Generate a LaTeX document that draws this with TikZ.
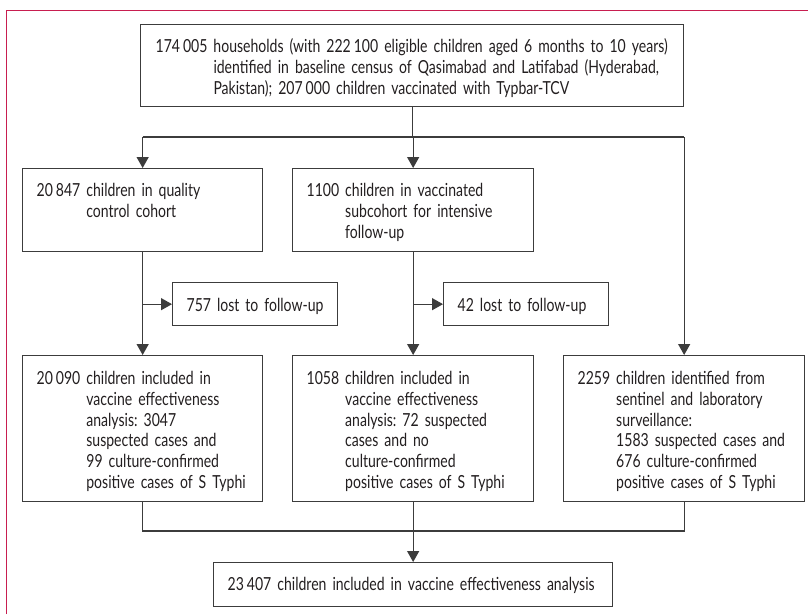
\documentclass[tikz,border=0pt]{standalone}
\usepackage{fontspec}
\setmainfont{Lato}[FakeStretch=0.78]
\usetikzlibrary{arrows.meta}
\definecolor{lancet}{RGB}{200,30,80}
\definecolor{ln}{RGB}{60,60,60}
\definecolor{tx}{RGB}{35,31,32}
\frenchspacing
\newcommand\hfirst[2]{\gdef\hnum{#1}\noindent\mbox{#1\ #2}}
\newcommand\hnext[1]{\\\noindent\mbox{\hphantom{\hnum\ }#1}}
\begin{document}
\begin{tikzpicture}[x=1pt,y=-1pt,
  box/.style={draw=ln, line width=1.3pt, inner ysep=0pt, inner xsep=14pt,
    text height=28pt, align=left, anchor=north west, text=tx,
    font=\fontsize{18}{20.7}\selectfont\frenchspacing},
  conn/.style={draw=ln, line width=1.3pt},
  arr/.style={conn, -{Triangle[width=12pt,length=11pt]}}]
\useasboundingbox (0,0) rectangle (808,614);
\fill[white] (0,0) rectangle (808,614);
\draw[lancet, line width=1pt] (6,614) -- (6,10) -- (808,10);

\node[box, inner xsep=15pt, text width=513pt, text depth=54pt] (top) at (140,24)
  {\hfirst{174\,005}{households (with 222\,100 eligible children aged 6 months to 10 years)}\hnext{identified in baseline census of Qasimabad and Latifabad (Hyderabad,}\hnext{Pakistan); 207\,000 children vaccinated with Typbar-TCV}};

\node[box, text width=212pt, text depth=55pt] (q) at (22,168)
  {\hfirst{20\,847}{children in quality}\hnext{control cohort}};
\node[box, text width=213pt, text depth=55pt] (v) at (292,168)
  {\hfirst{1100}{children in vaccinated}\hnext{subcohort for intensive}\hnext{follow-up}};

\node[box, text width=137pt, text height=29pt, text depth=14pt] (l1) at (172,282)
  {\mbox{757 lost to follow-up}};
\node[box, text width=137pt, text height=29pt, text depth=14pt] (l2) at (443,282)
  {\mbox{42 lost to follow-up}};

\node[box, text width=212pt, text height=29pt, text depth=117pt] (a) at (22,355)
  {\hfirst{20\,090}{children included in}\hnext{vaccine effectiveness}\hnext{analysis: 3047}\hnext{suspected cases and}\hnext{99 culture-confirmed}\hnext{positive cases of S Typhi}};
\node[box, text width=213pt, text height=29pt, text depth=117pt] (b) at (292,355)
  {\hfirst{1058}{children included in}\hnext{vaccine effectiveness}\hnext{analysis: 72 suspected}\hnext{cases and no}\hnext{culture-confirmed}\hnext{positive cases of S Typhi}};
\node[box, text width=213pt, text height=29pt, text depth=117pt] (c) at (563,355)
  {\hfirst{2259}{children identified from}\hnext{sentinel and laboratory}\hnext{surveillance:}\hnext{1583 suspected cases and}\hnext{676 culture-confirmed}\hnext{positive cases of S Typhi}};

\node[box, text width=371pt, text height=28pt, text depth=16pt] (f) at (213,562)
  {\mbox{23\,407 children included in vaccine effectiveness analysis}};

\coordinate (split) at (413,137);
\coordinate (merge) at (413,531);

\draw[conn] (top.south) -- (top.south |- split);
\draw[conn] (q.north |- split) -- (c.north |- split);
\draw[arr] (q.north |- split) -- (q.north);
\draw[arr] (v.north |- split) -- (v.north);
\draw[arr] (c.north |- split) -- (c.north);

\draw[arr] (q.south) -- (a.north);
\draw[arr] (q.south |- l1.west) -- (l1.west);
\draw[arr] (v.south) -- (b.north);
\draw[arr] (v.south |- l2.west) -- (l2.west);

\draw[conn] (a.south) -- (a.south |- merge) -- (c.south |- merge) -- (c.south);
\draw[arr] (b.south) -- (f.north);
\end{tikzpicture}
\end{document}
